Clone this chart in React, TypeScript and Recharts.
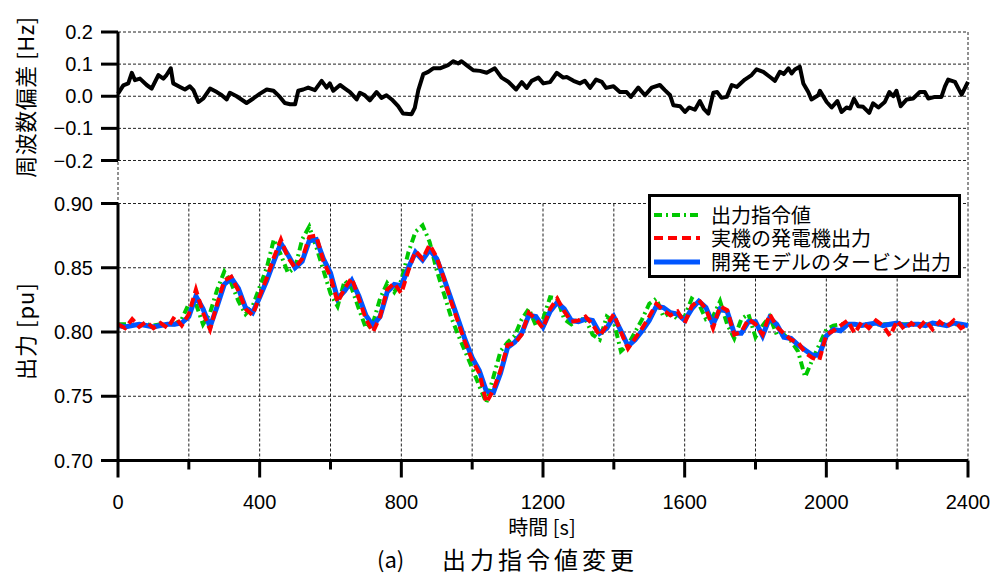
import React from 'react';
import { LineChart, Line, XAxis, YAxis, CartesianGrid, ReferenceLine, Legend } from 'recharts';

const NUM_FONT = '"Liberation Sans", Arial, sans-serif';
const JP_FONT = '"Noto Sans CJK JP", "Noto Sans", sans-serif';

// ---- frequency deviation (top panel) ----
const freqTime = [
  0, 15, 29, 39, 48, 62, 81, 95, 114, 128, 137, 149, 156, 175, 189, 203, 213, 227, 241, 260,
  279, 293, 307, 316, 335, 363, 382, 401, 420, 439, 457, 471, 486, 500, 509, 523, 537, 556, 575, 589,
  598, 608, 627, 641, 655, 674, 683, 697, 711, 730, 744, 758, 773, 791, 805, 829, 838, 848, 862, 876,
  890, 909, 932, 947, 961, 970, 984, 1003, 1022, 1041, 1064, 1083, 1102, 1124, 1140, 1154, 1168, 1187, 1201, 1220,
  1239, 1257, 1267, 1286, 1304, 1318, 1333, 1350, 1366, 1378, 1399, 1417, 1436, 1448, 1469, 1488, 1507, 1530, 1544, 1559,
  1568, 1587, 1601, 1613, 1629, 1643, 1654, 1667, 1681, 1692, 1704, 1719, 1733, 1747, 1770, 1789, 1803, 1822, 1841, 1855,
  1869, 1880, 1893, 1902, 1911, 1925, 1935, 1949, 1958, 1977, 1982, 2001, 2015, 2031, 2043, 2057, 2067, 2078, 2090, 2104,
  2121, 2132, 2147, 2165, 2178, 2189, 2198, 2210, 2227, 2245, 2264, 2278, 2288, 2307, 2325, 2335, 2344, 2363, 2382, 2400,
];
const freqDev = [
  0.008, 0.034, 0.040, 0.073, 0.050, 0.055, 0.035, 0.024, 0.066, 0.055, 0.066, 0.087, 0.040, 0.029, 0.021, 0.031, 0.019, -0.018, -0.007, 0.024,
  0.013, 0.003, -0.010, 0.011, 0.000, -0.021, -0.007, 0.008, 0.021, 0.017, -0.002, -0.021, -0.025, -0.025, 0.017, 0.021, 0.027, 0.019, 0.048, 0.027,
  0.040, 0.017, 0.035, 0.024, 0.013, -0.010, 0.011, 0.003, -0.013, 0.013, -0.005, 0.003, -0.010, -0.031, -0.054, -0.056, -0.036, 0.019, 0.069, 0.076,
  0.087, 0.087, 0.097, 0.109, 0.102, 0.109, 0.097, 0.081, 0.079, 0.073, 0.087, 0.058, 0.045, 0.021, 0.044, 0.026, 0.048, 0.058, 0.040, 0.044,
  0.073, 0.058, 0.060, 0.048, 0.040, 0.048, 0.026, 0.052, 0.045, 0.026, 0.031, 0.013, 0.013, -0.002, 0.027, 0.003, 0.027, 0.035, 0.019, 0.003,
  -0.028, -0.031, -0.049, -0.035, -0.042, -0.015, -0.039, -0.054, 0.011, 0.013, -0.005, -0.002, 0.035, 0.029, 0.052, 0.066, 0.084, 0.076, 0.060, 0.048,
  0.076, 0.069, 0.087, 0.071, 0.083, 0.092, 0.040, 0.013, -0.010, 0.003, 0.017, -0.018, -0.035, -0.015, -0.049, -0.035, -0.038, -0.008, -0.031, -0.033,
  -0.052, -0.022, -0.035, -0.018, 0.013, 0.000, 0.017, -0.031, -0.010, -0.007, 0.013, 0.013, -0.007, -0.002, -0.002, 0.031, 0.052, 0.045, 0.005, 0.045,
];

// ---- output (bottom panel) ----
const outTime = [
  0, 20, 40, 60, 80, 100, 120, 140, 160, 180,
  200, 220, 240, 260, 280, 300, 320, 340, 360, 380,
  400, 420, 440, 460, 480, 500, 520, 540, 560, 580,
  600, 620, 640, 660, 680, 700, 720, 740, 760, 780,
  800, 820, 840, 860, 880, 900, 920, 940, 960, 980,
  1000, 1020, 1040, 1060, 1080, 1100, 1120, 1140, 1160, 1180,
  1200, 1220, 1240, 1260, 1280, 1300, 1320, 1340, 1360, 1380,
  1400, 1420, 1440, 1460, 1480, 1500, 1520, 1540, 1560, 1580,
  1600, 1620, 1640, 1660, 1680, 1700, 1720, 1740, 1760, 1780,
  1800, 1820, 1840, 1860, 1880, 1900, 1920, 1940, 1960, 1980,
  2000, 2020, 2040, 2060, 2080, 2100, 2120, 2140, 2160, 2180,
  2200, 2220, 2240, 2260, 2280, 2300, 2320, 2340, 2360, 2380,
  2400,
];
const commandOut = [
  0.806, 0.806, 0.806, 0.805, 0.806, 0.805, 0.806, 0.806, 0.806, 0.810,
  0.822, 0.822, 0.806, 0.815, 0.833, 0.847, 0.838, 0.824, 0.814, 0.820,
  0.835, 0.850, 0.872, 0.860, 0.846, 0.850, 0.872, 0.882, 0.866, 0.848,
  0.830, 0.820, 0.840, 0.834, 0.818, 0.803, 0.807, 0.826, 0.838, 0.831,
  0.840, 0.862, 0.878, 0.883, 0.870, 0.848, 0.830, 0.812, 0.798, 0.785,
  0.772, 0.758, 0.745, 0.765, 0.785, 0.792, 0.797, 0.810, 0.818, 0.805,
  0.810, 0.827, 0.826, 0.810, 0.806, 0.810, 0.810, 0.798, 0.794, 0.812,
  0.808, 0.785, 0.790, 0.800, 0.810, 0.822, 0.826, 0.812, 0.815, 0.810,
  0.812, 0.826, 0.822, 0.810, 0.812, 0.824, 0.806, 0.795, 0.810, 0.814,
  0.796, 0.805, 0.812, 0.798, 0.798, 0.793, 0.785, 0.765, 0.778, 0.790,
  0.802, 0.805, 0.806, 0.806, 0.806, 0.806, 0.806, 0.806, 0.806, 0.806,
  0.806, 0.806, 0.806, 0.806, 0.806, 0.806, 0.806, 0.806, 0.806, 0.806,
  0.806,
];
const actualOut = [
  0.806, 0.803, 0.810, 0.804, 0.808, 0.803, 0.807, 0.803, 0.812, 0.805,
  0.814, 0.833, 0.815, 0.802, 0.822, 0.840, 0.843, 0.832, 0.818, 0.813,
  0.828, 0.842, 0.858, 0.872, 0.858, 0.850, 0.857, 0.874, 0.875, 0.855,
  0.843, 0.823, 0.834, 0.842, 0.826, 0.810, 0.800, 0.812, 0.833, 0.838,
  0.830, 0.848, 0.863, 0.857, 0.868, 0.858, 0.842, 0.824, 0.808, 0.792,
  0.778, 0.768, 0.745, 0.755, 0.770, 0.790, 0.791, 0.798, 0.815, 0.810,
  0.803, 0.818, 0.826, 0.816, 0.808, 0.809, 0.812, 0.806, 0.797, 0.805,
  0.814, 0.800, 0.787, 0.795, 0.803, 0.812, 0.822, 0.817, 0.813, 0.816,
  0.807, 0.820, 0.825, 0.818, 0.803, 0.820, 0.817, 0.798, 0.800, 0.810,
  0.806, 0.798, 0.814, 0.804, 0.799, 0.794, 0.792, 0.784, 0.780, 0.778,
  0.798, 0.801, 0.805, 0.809, 0.799, 0.808, 0.803, 0.809, 0.805, 0.797,
  0.809, 0.802, 0.807, 0.803, 0.809, 0.802, 0.808, 0.804, 0.809, 0.803,
  0.806,
];
const modelOut = [
  0.805, 0.804, 0.805, 0.806, 0.805, 0.804, 0.805, 0.806, 0.806, 0.807,
  0.812, 0.828, 0.818, 0.804, 0.820, 0.837, 0.842, 0.834, 0.819, 0.815,
  0.827, 0.840, 0.855, 0.869, 0.860, 0.850, 0.855, 0.871, 0.872, 0.857,
  0.846, 0.826, 0.832, 0.840, 0.828, 0.813, 0.805, 0.812, 0.831, 0.837,
  0.836, 0.850, 0.862, 0.856, 0.864, 0.857, 0.842, 0.826, 0.810, 0.794,
  0.780, 0.770, 0.754, 0.753, 0.768, 0.788, 0.792, 0.799, 0.813, 0.812,
  0.804, 0.816, 0.823, 0.818, 0.809, 0.808, 0.810, 0.809, 0.799, 0.803,
  0.812, 0.801, 0.789, 0.794, 0.801, 0.809, 0.820, 0.819, 0.815, 0.814,
  0.809, 0.818, 0.824, 0.819, 0.806, 0.818, 0.816, 0.799, 0.799, 0.808,
  0.808, 0.797, 0.811, 0.806, 0.796, 0.795, 0.790, 0.786, 0.782, 0.782,
  0.797, 0.802, 0.801, 0.806, 0.806, 0.805, 0.806, 0.807, 0.805, 0.806,
  0.807, 0.805, 0.806, 0.806, 0.805, 0.807, 0.806, 0.805, 0.807, 0.806,
  0.805,
];

const xTicks = [0, 200, 400, 600, 800, 1000, 1200, 1400, 1600, 1800, 2000, 2200, 2400];
const freqTicks = [-0.2, -0.1, 0, 0.1, 0.2];
const outTicks = [0.7, 0.75, 0.8, 0.85, 0.9];

const seriesMeta = [
  { key: 'cmd', name: '出力指令値', color: '#00C800', dash: '8 4 2 4', width: 4 },
  { key: 'act', name: '実機の発電機出力', color: '#FF0000', dash: '9 5', width: 4 },
  { key: 'model', name: '開発モデルのタービン出力', color: '#0055FF', dash: undefined as string | undefined, width: 5 },
];
const drawOrder = ['cmd', 'model', 'act'];

const freqData = freqTime.map((t, i) => ({ t, f: freqDev[i] }));
const outData = outTime.map((t, i) => ({ t, cmd: commandOut[i], act: actualOut[i], model: modelOut[i] }));

const fmtFreq = (v: number) => (v < 0 ? '\u2212' : '') + Math.abs(v).toFixed(1);
const fmtOut = (v: number) => v.toFixed(2);

const renderXTick = (props: any) => {
  const { x, y, payload, index } = props;
  const v = Number(payload.value);
  const major = v % 400 === 0;
  return (
    <g key={`xt-${index}-${v}`}>
      <line x1={x} x2={x} y1={y} y2={y + (major ? 17 : 9)} stroke="#000" strokeWidth={3} />
      {major && (
        <text x={x} y={y + 48} textAnchor="middle" fontSize={20} fontFamily={NUM_FONT} fill="#000">
          {v}
        </text>
      )}
    </g>
  );
};

const LegendBox = () => (
  <div
    style={{
      width: 313,
      height: 84,
      boxSizing: 'border-box',
      border: '3px solid #000',
      background: '#fff',
      paddingTop: 6,
    }}
  >
    {seriesMeta.map((s) => (
      <div key={s.key} style={{ display: 'flex', alignItems: 'center', height: 23.5, overflow: 'visible' }}>
        <svg width={60} height={12} style={{ flex: 'none' }}>
          <line x1={3} x2={49} y1={6} y2={6} stroke={s.color} strokeWidth={s.width} strokeDasharray={s.dash} />
        </svg>
        <span
          style={{
            display: 'inline-block',
            height: 22,
            fontFamily: JP_FONT,
            fontSize: 20,
            lineHeight: '22px',
            color: '#000',
            whiteSpace: 'nowrap',
            overflow: 'visible',
          }}
        >
          {s.name}
        </span>
      </div>
    ))}
  </div>
);

const gridProps = { stroke: '#222', strokeDasharray: '3 2', strokeWidth: 1 };
const axisStroke = { stroke: '#000', strokeWidth: 3 };

export default function App() {
  return (
    <div style={{ position: 'absolute', left: 0, top: 0, width: 995, height: 576, background: '#fff', overflow: 'hidden' }}>
      {/* top panel */}
      <div style={{ position: 'absolute', left: 0, top: 0 }}>
        <LineChart width={995} height={210} data={freqData} margin={{ top: 32, right: 27, bottom: 6.5, left: 58 }}>
          <CartesianGrid {...gridProps} />
          <XAxis
            dataKey="t"
            type="number"
            domain={[0, 2400]}
            ticks={xTicks}
            interval={0}
            height={0}
            tick={false}
            axisLine={false}
            tickLine={false}
          />
          <YAxis
            type="number"
            width={60}
            domain={[-0.3339, 0.2]}
            ticks={freqTicks}
            interval={0}
            tickFormatter={fmtFreq}
            tickSize={17}
            tickMargin={8}
            axisLine={false}
            tickLine={axisStroke}
            tick={{ fill: '#000', fontSize: 20, fontFamily: NUM_FONT }}
          />
          <ReferenceLine segment={[{ x: 0, y: -0.2 }, { x: 0, y: 0.2 }]} stroke="#000" strokeWidth={3} />
          <Line
            dataKey="f"
            type="linear"
            stroke="#000"
            strokeWidth={4}
            strokeLinejoin="round"
            dot={false}
            isAnimationActive={false}
          />
        </LineChart>
      </div>

      {/* bottom panel */}
      <div style={{ position: 'absolute', left: 0, top: 0 }}>
        <LineChart width={995} height={576} data={outData} margin={{ top: 203.5, right: 27, bottom: 55.5, left: 58 }}>
          <CartesianGrid {...gridProps} />
          <XAxis
            dataKey="t"
            type="number"
            domain={[0, 2400]}
            ticks={xTicks}
            interval={0}
            height={60}
            tickSize={0}
            tickMargin={0}
            tickLine={false}
            axisLine={axisStroke}
            tick={renderXTick}
          />
          <YAxis
            type="number"
            width={60}
            domain={[0.7, 0.9]}
            ticks={outTicks}
            interval={0}
            tickFormatter={fmtOut}
            tickSize={17}
            tickMargin={8}
            axisLine={axisStroke}
            tickLine={axisStroke}
            tick={{ fill: '#000', fontSize: 20, fontFamily: NUM_FONT }}
          />
          {drawOrder.map((k) => {
            const s = seriesMeta.find((m) => m.key === k)!;
            return (
              <Line
                key={s.key}
                dataKey={s.key}
                name={s.name}
                type="linear"
                stroke={s.color}
                strokeWidth={s.width}
                strokeDasharray={s.dash}
                dot={false}
                isAnimationActive={false}
              />
            );
          })}
          <Legend
            layout="vertical"
            align="center"
            verticalAlign="middle"
            wrapperStyle={{ left: 648, top: 194, width: 313, height: 84 }}
            content={() => <LegendBox />}
          />
        </LineChart>
      </div>

      {/* titles */}
      <svg width={995} height={576} style={{ position: 'absolute', left: 0, top: 0, pointerEvents: 'none' }}>
        <text
          transform="translate(24,97) rotate(-90)"
          textAnchor="middle"
          dominantBaseline="central"
          fontFamily={JP_FONT}
          fontSize={22}
          letterSpacing={0.5}
          fill="#000"
        >
          周波数偏差 [Hz]
        </text>
        <text
          transform="translate(24,331) rotate(-90)"
          textAnchor="middle"
          dominantBaseline="central"
          fontFamily={JP_FONT}
          fontSize={22}
          letterSpacing={1}
          fill="#000"
        >
          出力 [pu]
        </text>
        <text x={542} y={526} textAnchor="middle" dominantBaseline="central" fontFamily={JP_FONT} fontSize={20} fill="#000">
          時間 [s]
        </text>
        <text x={377} y={558} dominantBaseline="central" fontFamily={JP_FONT} fontSize={22} fill="#000">
          (a)
        </text>
        <text x={442} y={558} dominantBaseline="central" fontFamily={JP_FONT} fontSize={24} letterSpacing={4} fill="#000">
          出力指令値変更
        </text>
      </svg>
    </div>
  );
}
